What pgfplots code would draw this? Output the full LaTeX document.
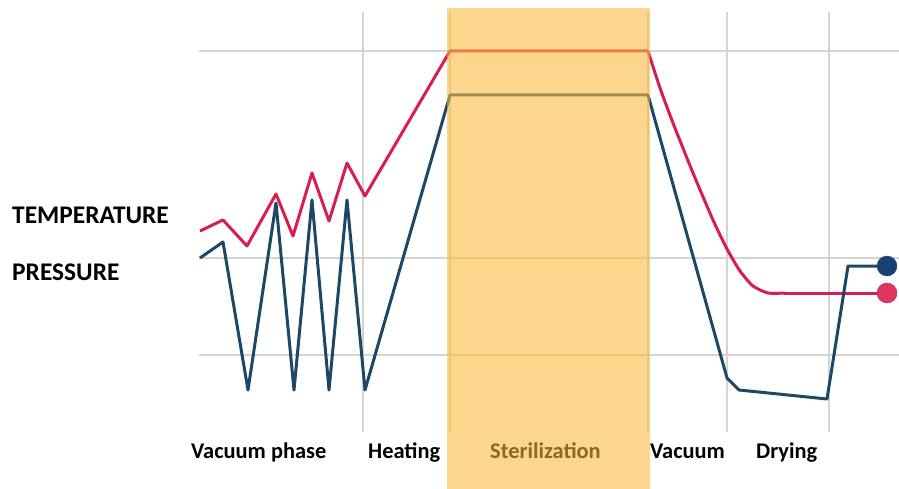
\documentclass[border=0pt]{standalone}
\usepackage{pgfplots}
\pgfplotsset{compat=1.18}
\usepackage{fontspec}
\setmainfont{Carlito}
\definecolor{tempred}{HTML}{D81E4E}
\definecolor{pressblue}{HTML}{1E4766}
\definecolor{gridgray}{HTML}{D4D4D4}
\definecolor{shade}{HTML}{F8BB3F}
\definecolor{sterbrown}{HTML}{8A6A1F}
\begin{document}
\begin{tikzpicture}
\begin{axis}[
  scale only axis, width=899bp, height=489bp,
  xmin=0, xmax=899, ymin=0, ymax=489, y dir=reverse,
  axis lines=none, ticks=none, clip=false,
]
% grid lines
\addplot[gridgray, line width=1.5bp] coordinates {(199,51) (899,51)};
\addplot[gridgray, line width=1.5bp] coordinates {(199,258) (899,258)};
\addplot[gridgray, line width=1.5bp] coordinates {(199,355) (899,355)};
\addplot[gridgray, line width=1.5bp] coordinates {(363,12) (363,432)};
\addplot[gridgray, line width=1.5bp] coordinates {(727,12) (727,432)};
\addplot[gridgray, line width=1.5bp] coordinates {(829,12) (829,432)};
\addplot[gridgray, line width=1.5bp] coordinates {(450,12) (450,432)};
\addplot[gridgray, line width=1.5bp] coordinates {(648,12) (648,432)};
% temperature
\addplot[tempred, line width=3bp, line join=round] coordinates {
 (200,231) (223,220) (247,246) (276,194) (293,236) (312,173) (329,221) (347,163) (365,196) (450,51) (648,51)};
\addplot[tempred, line width=3bp, smooth, tension=0.4] coordinates {
 (648,51) (660,88) (673,123) (693,173) (713,220) (727,249) (740,271) (753,286) (768,293) (785,293)};
\addplot[tempred, line width=3bp] coordinates {(784,293) (887,293)};
% pressure
\addplot[pressblue, line width=3bp, line join=round] coordinates {
 (200,258) (223,242) (248,390) (276,203) (294,390) (312,200) (329,390) (347,200) (365,390) (450,95) (648,95)
 (727,378) (739,390) (827,399) (848,266) (887,266)};
% end markers
\addplot[only marks, mark=*, mark size=10bp, color=pressblue, mark options={fill=pressblue!90!blue}] coordinates {(887,266)};
\addplot[only marks, mark=*, mark size=10bp, color=tempred, mark options={fill=tempred!90!white}] coordinates {(887,293)};
% shaded sterilization band
\addplot[fill=shade, draw=none, fill opacity=0.6] coordinates {(447,8) (650,8) (650,489) (447,489)} -- cycle;
% labels
\node[anchor=west, inner sep=0pt, font=\bfseries\fontsize{25.5}{28}\selectfont] at (axis cs:12,215) {TEMPERATURE};
\node[anchor=west, inner sep=0pt, font=\bfseries\fontsize{25.5}{28}\selectfont] at (axis cs:12,272) {PRESSURE};
\node[anchor=base west, inner sep=0pt, font=\bfseries\fontsize{22.5}{24}\selectfont] at (axis cs:191,458) {Vacuum phase};
\node[anchor=base west, inner sep=0pt, font=\bfseries\fontsize{22.5}{24}\selectfont] at (axis cs:368,458) {Heating};
\node[anchor=base west, inner sep=0pt, font=\bfseries\fontsize{22.5}{24}\selectfont, text=sterbrown] at (axis cs:490,458) {Sterilization};
\node[anchor=base west, inner sep=0pt, font=\bfseries\fontsize{22.5}{24}\selectfont] at (axis cs:650,458) {Vacuum};
\node[anchor=base west, inner sep=0pt, font=\bfseries\fontsize{22.5}{24}\selectfont] at (axis cs:756,458) {Drying};
\end{axis}
\pgfresetboundingbox
\path (current axis.south west) rectangle (current axis.north east);
\end{tikzpicture}
\end{document}
